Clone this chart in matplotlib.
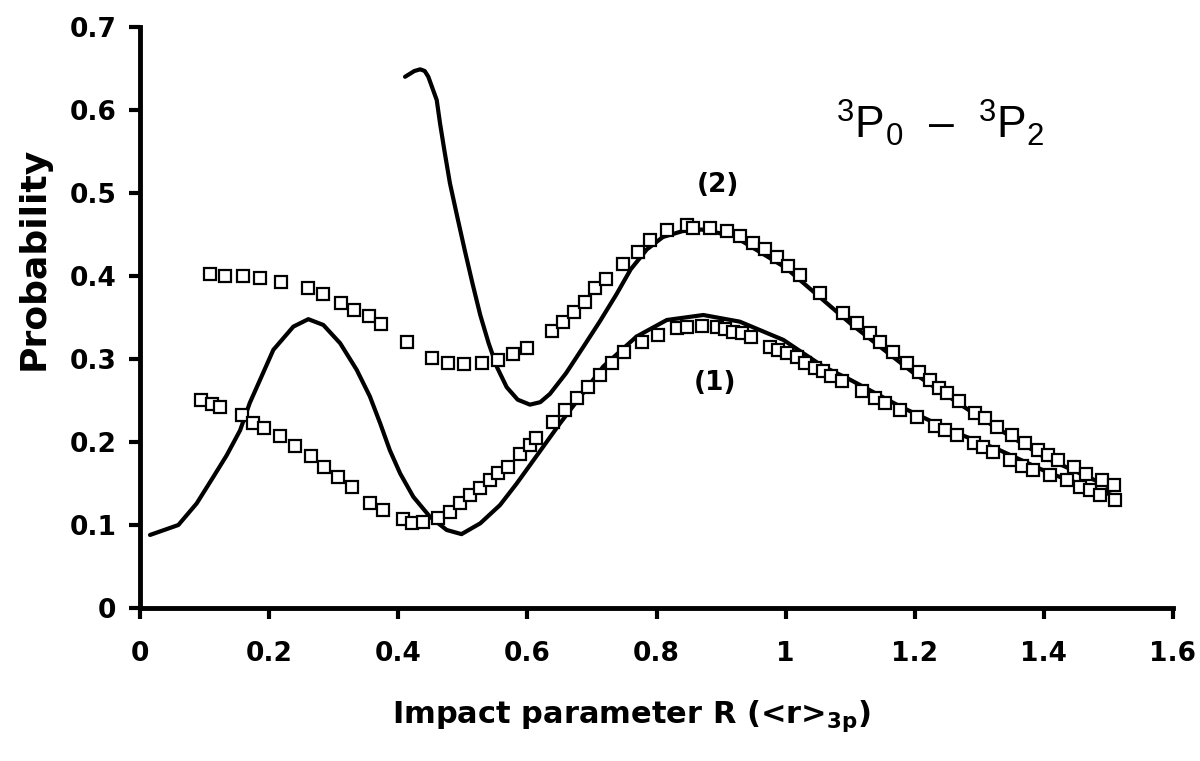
import matplotlib
matplotlib.use("Agg")
import matplotlib.pyplot as plt
import numpy as np

plt.rcParams['font.family'] = ['DejaVu Sans']
plt.rcParams['mathtext.fontset'] = 'custom'
plt.rcParams['mathtext.rm'] = 'Liberation Sans'
plt.rcParams['mathtext.bf'] = 'DejaVu Sans:bold'
plt.rcParams['mathtext.it'] = 'Liberation Sans:italic'

# Theory curve (1) - solid line, lower
curve1_x = [0.0155, 0.0594, 0.0878, 0.1136, 0.1343, 0.155, 0.170, 0.186, 0.2065, 0.2375,
            0.2607, 0.284, 0.310, 0.3356, 0.356, 0.372, 0.387, 0.403, 0.4233, 0.449,
            0.475, 0.498, 0.527, 0.5576, 0.5835, 0.6506, 0.7176, 0.769, 0.816, 0.8725,
            0.929, 0.9965, 1.058, 1.100, 1.177, 1.255, 1.332, 1.410, 1.513]
curve1_y = [0.088, 0.100, 0.126, 0.158, 0.184, 0.214, 0.247, 0.275, 0.311, 0.339,
            0.348, 0.341, 0.319, 0.287, 0.255, 0.2225, 0.190, 0.162, 0.134, 0.110,
            0.094, 0.089, 0.102, 0.124, 0.150, 0.2225, 0.291, 0.327, 0.347, 0.353,
            0.345, 0.323, 0.291, 0.275, 0.243, 0.214, 0.190, 0.162, 0.134]

# Theory curve (2) - solid line, upper
curve2_x = [0.4105, 0.425, 0.434, 0.441, 0.4466, 0.4596, 0.4647, 0.4713, 0.480, 0.4915,
            0.503, 0.515, 0.527, 0.540, 0.553, 0.568, 0.585, 0.604, 0.620, 0.635,
            0.660, 0.687, 0.712, 0.738, 0.760, 0.785, 0.810, 0.840, 0.870, 0.920,
            1.000, 1.100, 1.200, 1.300, 1.400, 1.510]
curve2_y = [0.640, 0.647, 0.649, 0.647, 0.640, 0.612, 0.584, 0.552, 0.512, 0.471,
            0.431, 0.391, 0.353, 0.319, 0.290, 0.266, 0.251, 0.245, 0.248, 0.258,
            0.283, 0.315, 0.345, 0.378, 0.408, 0.432, 0.447, 0.454, 0.456, 0.448,
            0.410, 0.343, 0.282, 0.230, 0.182, 0.143]

# Data points (1) - squares, lower
pts1_x = [0.094, 0.111, 0.124, 0.158, 0.175, 0.192, 0.217, 0.240, 0.265, 0.285,
          0.307, 0.328, 0.356, 0.376, 0.407, 0.421, 0.439, 0.462, 0.480, 0.496,
          0.511, 0.527, 0.542, 0.555, 0.570, 0.589, 0.604, 0.614, 0.640, 0.658,
          0.677, 0.694, 0.713, 0.731, 0.749, 0.777, 0.803, 0.831, 0.847, 0.870,
          0.894, 0.906, 0.919, 0.932, 0.947, 0.976, 0.988, 1.002, 1.017, 1.030,
          1.045, 1.058, 1.071, 1.087, 1.118, 1.138, 1.154, 1.177, 1.203, 1.231,
          1.247, 1.265, 1.291, 1.306, 1.321, 1.348, 1.366, 1.383, 1.410, 1.436,
          1.456, 1.471, 1.487, 1.510]
pts1_y = [0.250, 0.246, 0.242, 0.233, 0.223, 0.217, 0.207, 0.195, 0.183, 0.170,
          0.158, 0.146, 0.126, 0.118, 0.107, 0.103, 0.104, 0.108, 0.116, 0.126,
          0.136, 0.145, 0.154, 0.163, 0.170, 0.186, 0.196, 0.205, 0.224, 0.238,
          0.253, 0.266, 0.281, 0.295, 0.309, 0.321, 0.329, 0.337, 0.338, 0.340,
          0.338, 0.336, 0.333, 0.331, 0.326, 0.315, 0.311, 0.307, 0.303, 0.295,
          0.289, 0.285, 0.279, 0.273, 0.261, 0.253, 0.247, 0.239, 0.230, 0.219,
          0.214, 0.208, 0.199, 0.194, 0.188, 0.178, 0.171, 0.166, 0.160, 0.154,
          0.146, 0.142, 0.136, 0.130]

# Data points (2) - squares, upper
pts2_x = [0.109, 0.132, 0.159, 0.186, 0.218, 0.260, 0.283, 0.311, 0.332, 0.355,
          0.374, 0.413, 0.452, 0.477, 0.502, 0.529, 0.555, 0.578, 0.600, 0.638,
          0.655, 0.672, 0.689, 0.705, 0.722, 0.748, 0.771, 0.790, 0.816, 0.847,
          0.857, 0.883, 0.909, 0.929, 0.950, 0.968, 0.986, 1.004, 1.022, 1.053,
          1.089, 1.110, 1.131, 1.146, 1.167, 1.188, 1.206, 1.224, 1.237, 1.250,
          1.268, 1.293, 1.309, 1.327, 1.350, 1.371, 1.391, 1.407, 1.422, 1.446,
          1.466, 1.490, 1.508]
pts2_y = [0.402, 0.400, 0.400, 0.398, 0.393, 0.385, 0.378, 0.368, 0.359, 0.352,
          0.342, 0.320, 0.301, 0.295, 0.294, 0.295, 0.299, 0.306, 0.313, 0.334,
          0.344, 0.357, 0.369, 0.385, 0.396, 0.415, 0.429, 0.443, 0.455, 0.461,
          0.458, 0.458, 0.454, 0.448, 0.440, 0.432, 0.423, 0.412, 0.401, 0.379,
          0.355, 0.343, 0.331, 0.320, 0.309, 0.295, 0.284, 0.275, 0.265, 0.259,
          0.249, 0.235, 0.229, 0.218, 0.208, 0.199, 0.190, 0.184, 0.178, 0.170,
          0.162, 0.154, 0.148]

xticks = [0, 0.2, 0.4, 0.6, 0.8, 1.0, 1.2, 1.4, 1.6]
xtick_labels = ['0', '0.2', '0.4', '0.6', '0.8', '1', '1.2', '1.4', '1.6']
yticks = [0, 0.1, 0.2, 0.3, 0.4, 0.5, 0.6, 0.7]
ytick_labels = ['0', '0.1', '0.2', '0.3', '0.4', '0.5', '0.6', '0.7']

fig = plt.figure(figsize=(12, 7.61), dpi=100)
ax = fig.add_axes([140/1200, 1 - 608/761, (1173 - 140)/1200, (608 - 27)/761])

ax.plot(curve1_x, curve1_y, color='black', lw=3.0, solid_capstyle='round',
        solid_joinstyle='round', zorder=2)
ax.plot(curve2_x, curve2_y, color='black', lw=3.0, solid_capstyle='round',
        solid_joinstyle='round', zorder=2)
ax.plot(pts1_x, pts1_y, linestyle='none', marker='s', markersize=8.5,
        markerfacecolor='white', markeredgecolor='black', markeredgewidth=1.6, zorder=3)
ax.plot(pts2_x, pts2_y, linestyle='none', marker='s', markersize=8.5,
        markerfacecolor='white', markeredgecolor='black', markeredgewidth=1.6, zorder=3)

ax.set_xlim(0, 1.6)
ax.set_ylim(0, 0.7)
ax.set_xticks(xticks)
ax.set_xticklabels(xtick_labels, fontsize=19, fontweight='bold')
ax.set_yticks(yticks)
ax.set_yticklabels(ytick_labels, fontsize=19, fontweight='bold')
ax.tick_params(axis='both', direction='out', length=8, width=3)
ax.tick_params(axis='y', pad=9)
ax.tick_params(axis='x', pad=16)
for s in ['top', 'right']:
    ax.spines[s].set_visible(False)
for s in ['left', 'bottom']:
    ax.spines[s].set_linewidth(3.5)

ax.text(0.895, 0.51, '(2)', fontsize=19, fontweight='bold', ha='center', va='center')
ax.text(0.891, 0.271, '(1)', fontsize=19, fontweight='bold', ha='center', va='center')
ax.text(1.24, 0.585, r'$^{3}$P$_{0}$  –  $^{3}$P$_{2}$', fontsize=32,
        family='Liberation Sans', ha='center', va='center')

fig.text(632/1200, 1 - 723/761, r'Impact parameter R (<r>$_{\mathbf{3p}}$)',
         fontsize=22, fontweight='bold', ha='center', va='baseline')
fig.text(34/1200, 1 - 258/761, 'Probability', fontsize=26, fontweight='bold',
         rotation=90, ha='center', va='center')

fig.savefig('out.png', dpi=100, facecolor='white')
